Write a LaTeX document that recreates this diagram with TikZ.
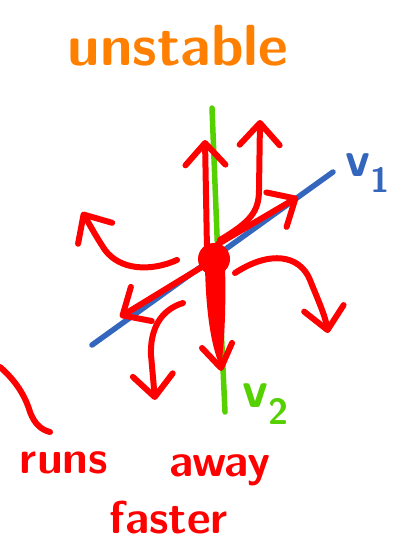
\documentclass[tikz,border=0pt]{standalone}
\usepackage{tikz}
\usetikzlibrary{arrows.meta}
\definecolor{pen}{RGB}{255,0,0}
\definecolor{marker}{RGB}{255,128,0}
\definecolor{axisone}{RGB}{52,102,190}
\definecolor{axistwo}{RGB}{85,208,0}
\tikzset{
  ink/.style={draw=pen, line width=6pt, line cap=round, line join=round},
  flow/.style={ink, -{Straight Barb[length=22pt, width=40pt, round]}},
  eig/.style={line width=5.5pt, line cap=round},
  hand/.style={font=\sffamily\bfseries, inner sep=0pt, anchor=base},
}

\begin{document}
\begin{tikzpicture}[x=1pt, y=-1pt]
  \useasboundingbox (0,0) rectangle (398,543);
  % eigen directions
  \draw[eig, axistwo] (212,108) -- (218,260) -- (225,412);
  \draw[eig, axisone] (92,345) -- (333,172);
  \node[hand, text=axisone, font=\sffamily\bfseries\fontsize{50}{50}\selectfont] (vone) at (368,176) {v\textsubscript{1}};
  \node[hand, text=axistwo, font=\sffamily\bfseries\fontsize{52}{52}\selectfont] (vtwo) at (266,407) {v\textsubscript{2}};
  % trajectories leaving the fixed point
  \draw[flow] (207,250) -- (205,140);
  \draw[flow] (220,240) .. controls (250,222) and (259,212) .. (259,190) -- (260,120);
  \draw[flow] (218,244) -- (298,197);
  \draw[flow] (177,260) .. controls (150,272) and (120,270) .. (105,250) .. controls (95,235) and (90,225) .. (82,212);
  \draw[flow] (210,262) -- (120,317);
  \draw[flow] (183,303) .. controls (160,310) and (150,330) .. (151,355) -- (155,400);
  \draw[flow] (235,273) .. controls (270,250) and (300,255) .. (310,280) .. controls (318,300) and (325,315) .. (328,333);
  % fast direction
  \fill[pen] (205,266) .. controls (206,320) and (213,352) .. (221,368) .. controls (225,340) and (226,300) .. (225,266) -- cycle;
  \draw[ink] (202,348) -- (221,368) -- (232,343);
  \fill[pen] (214,259) circle (16);
  \draw[ink] (0,367) .. controls (15,380) and (25,395) .. (30,412) .. controls (35,425) and (42,430) .. (50,432);
  % labels
  \node[hand, text=marker, font=\sffamily\bfseries\fontsize{58}{58}\selectfont] (title) at (178,66) {unstable};
  \node[hand, text=pen, font=\sffamily\bfseries\fontsize{46}{46}\selectfont] (runs) at (64,473) {runs};
  \node[hand, text=pen, font=\sffamily\bfseries\fontsize{46}{46}\selectfont] (away) at (220,476) {away};
  \node[hand, text=pen, font=\sffamily\bfseries\fontsize{46}{46}\selectfont] (faster) at (169,533) {faster};
\end{tikzpicture}
\end{document}
